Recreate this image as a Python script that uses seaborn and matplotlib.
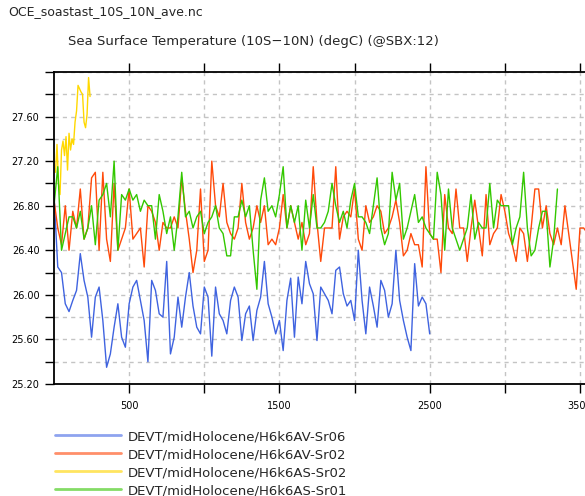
import numpy as np
import pandas as pd
import matplotlib
matplotlib.use("Agg")
import matplotlib.pyplot as plt
import seaborn as sns
from matplotlib.lines import Line2D

# ---------------- data ----------------
run_names = [
    "DEVT/midHolocene/H6k6AV-Sr06",
    "DEVT/midHolocene/H6k6AV-Sr02",
    "DEVT/midHolocene/H6k6AS-Sr02",
    "DEVT/midHolocene/H6k6AS-Sr01",
]

blue_start, blue_step = 0, 25
blue_sst = [
    26.9, 26.25, 26.2, 25.92, 25.85, 25.95, 26.04, 26.37, 26.13, 25.98,
    25.62, 25.98, 26.07, 25.77, 25.35, 25.47, 25.71, 25.92, 25.62, 25.53,
    25.92, 26.07, 26.13, 25.95, 25.77, 25.4, 26.13, 26.04, 25.83, 25.8,
    26.3, 25.47, 25.62, 25.98, 25.71, 25.98, 26.2, 25.9, 25.71, 25.65,
    26.07, 25.98, 25.45, 26.07, 25.83, 25.77, 25.65, 25.95, 26.07, 25.98,
    25.59, 25.83, 25.9, 25.59, 25.86, 25.98, 26.3, 25.92, 25.8, 25.65,
    25.77, 25.5, 25.95, 26.15, 25.62, 26.16, 25.92, 26.3, 26.1, 26.01,
    25.59, 26.07, 26.01, 25.95, 25.83, 26.22, 26.25, 26.01, 25.9, 25.95,
    25.77, 26.4, 25.95, 25.65, 26.07, 25.9, 25.71, 26.13, 26.04, 25.8,
    25.92, 26.4, 25.95, 25.77, 25.62, 25.5, 26.28, 25.9, 25.98, 25.92,
    25.65,
]

orange_start, orange_step = 0, 25
orange_sst = [
    26.85, 26.6, 26.45, 26.8, 26.4, 26.75, 26.6, 26.95, 26.5, 26.6,
    27.05, 27.1, 26.4, 27.1, 26.5, 26.3, 27.0, 26.4, 26.5, 26.6,
    26.95, 26.5, 26.55, 26.6, 26.25, 26.8, 26.75, 26.65, 26.4, 26.65,
    26.6, 26.6, 26.7, 26.6, 27.05, 26.75, 26.5, 26.2, 26.4, 26.95,
    26.3, 26.4, 27.2, 26.8, 26.7, 27.0, 26.65, 26.55, 26.5, 26.6,
    27.0, 26.65, 26.5, 26.6, 26.8, 26.65, 26.8, 26.45, 26.5, 26.45,
    26.6, 26.9, 26.6, 26.8, 26.65, 26.5, 26.65, 26.45, 26.55, 27.15,
    26.65, 26.3, 26.6, 26.6, 26.6, 27.15, 26.5, 26.7, 26.75, 26.7,
    26.95, 26.5, 26.4, 26.8, 26.65, 26.7, 26.8, 26.75, 26.55, 26.6,
    26.7, 26.85, 26.65, 26.35, 26.4, 26.55, 26.45, 26.45, 26.25, 27.15,
    26.55, 26.5, 26.5, 26.2, 26.9, 26.6, 26.55, 26.95, 26.6, 26.6,
    26.3, 26.6, 26.85, 26.6, 26.35, 26.9, 26.45, 26.55, 26.6, 26.9,
    26.75, 26.55, 26.45, 26.3, 26.6, 26.55, 26.3, 26.6, 26.95, 26.95,
    26.6, 26.8, 26.55, 26.45, 26.6, 26.45, 26.8, 26.55, 26.3, 26.05,
    26.6, 26.6, 26.55, 26.5,
]

yellow_start, yellow_step = 10, 10
yellow_sst = [
    27.1, 27.35, 27.0, 26.9, 27.3, 27.38, 27.25, 27.42, 27.12, 27.45,
    27.3, 27.4, 27.35, 27.55, 27.65, 27.88, 27.85, 27.82, 27.8, 27.55,
    27.5, 27.62, 27.95, 27.78,
]

green_start, green_step = 0, 25
green_sst = [
    26.8, 27.15, 26.4, 26.55, 26.7, 26.7, 26.6, 26.75, 26.5, 26.6,
    26.8, 26.45, 26.85, 26.9, 27.0, 26.7, 27.2, 26.4, 26.9, 26.85,
    26.95, 26.85, 26.9, 26.75, 26.85, 26.8, 26.8, 26.5, 26.9, 26.75,
    26.55, 26.7, 26.4, 26.7, 27.1, 26.7, 26.75, 26.6, 26.7, 26.75,
    26.55, 26.65, 26.7, 26.8, 26.6, 26.55, 26.35, 26.35, 26.7, 26.7,
    26.85, 26.7, 26.8, 26.4, 26.05, 26.85, 27.05, 26.75, 26.8, 26.7,
    26.9, 27.15, 26.6, 26.8, 26.65, 26.8, 26.4, 26.85, 26.6, 26.9,
    26.6, 26.6, 26.65, 26.75, 27.0, 26.8, 26.65, 26.75, 26.6, 26.85,
    27.0, 26.7, 26.7, 26.65, 26.55, 26.8, 27.05, 26.6, 26.45, 26.55,
    27.1, 26.85, 27.0, 26.5, 26.6, 26.75, 26.9, 26.65, 26.7, 26.6,
    26.55, 26.5, 27.1, 26.9, 26.4, 26.95, 26.6, 26.5, 26.4, 26.5,
    26.6, 26.9, 26.5, 26.65, 26.6, 26.6, 27.0, 26.6, 26.85, 26.8,
    26.8, 26.8, 26.45, 26.6, 26.7, 27.1, 26.6, 26.35, 26.4, 26.6,
    26.75, 26.75, 26.25, 26.5, 26.95,
]

x_tick_values = [500, 1000, 1500, 2000, 2500, 3000, 3500]
x_tick_labels = ["500", "", "1500", "", "2500", "", "3500"]
y_tick_values = [25.2, 25.4, 25.6, 25.8, 26.0, 26.2, 26.4, 26.6, 26.8, 27.0,
                 27.2, 27.4, 27.6, 27.8, 28.0]
y_tick_labels = ["25.20", "", "25.60", "", "26.00", "", "26.40", "", "26.80", "",
                 "27.20", "", "27.60", "", ""]

file_title = "OCE_soastast_10S_10N_ave.nc"
plot_title = "Sea Surface Temperature (10S\u221210N) (degC) (@SBX:12)"

# ---------------- build tidy table ----------------
series = [
    (run_names[0], blue_start, blue_step, blue_sst),
    (run_names[1], orange_start, orange_step, orange_sst),
    (run_names[2], yellow_start, yellow_step, yellow_sst),
    (run_names[3], green_start, green_step, green_sst),
]
frames = []
for name, start, step, vals in series:
    yrs = start + step * np.arange(len(vals))
    frames.append(pd.DataFrame({"year": yrs, "sst": vals, "run": name}))
df = pd.concat(frames, ignore_index=True)

line_colors = ["#3f63e0", "#ff4a0a", "#ffd800", "#33c800"]
legend_colors = ["#8ea3ef", "#ff8f6a", "#ffe560", "#84dc66"]
palette = dict(zip(run_names, line_colors))

# ---------------- figure ----------------
sns.set_style("ticks")
plt.rcParams["font.family"] = ["DejaVu Sans"]

fig = plt.figure(figsize=(5.85, 4.96), dpi=100)
ax = fig.add_axes([54 / 585, 1 - 384 / 496, 541 / 585, 312 / 496])

sns.lineplot(data=df, x="year", y="sst", hue="run", hue_order=run_names,
             palette=palette, estimator=None, sort=False, legend=False,
             linewidth=1.0, ax=ax)

ax.set_xlim(0, 3600)
ax.set_ylim(25.2, 28.0)
ax.set_xticks(x_tick_values)
ax.set_xticklabels(x_tick_labels)
ax.set_yticks(y_tick_values)
ax.set_yticklabels(y_tick_labels)
ax.set_xlabel("")
ax.set_ylabel("")

ax.grid(True, color="#c4c4c4", linestyle=(0, (3, 3)), linewidth=1.0)
ax.set_axisbelow(True)
ax.tick_params(axis="both", direction="out", length=6.5, width=1.0,
               labelsize=7, colors="black", pad=4)
ax.tick_params(axis="x", top=True, pad=6)
ax.tick_params(axis="y", right=False)
for side in ["left", "bottom", "top"]:
    ax.spines[side].set_visible(True)
    ax.spines[side].set_linewidth(1.3)
    ax.spines[side].set_color("black")
ax.spines["right"].set_visible(False)

fig.text(8 / 585, 1 - 12 / 496, file_title, fontsize=9, va="center", ha="left")
fig.text(68 / 585, 1 - 42 / 496, plot_title, fontsize=9.5, va="center", ha="left")

handles = [Line2D([0], [0], color=c, linewidth=2.0) for c in legend_colors]
fig.legend(handles, run_names, loc="upper left",
           bbox_to_anchor=(55 / 585, 1 - 430 / 496), bbox_transform=fig.transFigure,
           frameon=False, fontsize=9.5, handlelength=5.0, handletextpad=0.5,
           labelspacing=0.38, borderpad=0.0, borderaxespad=0.0)

fig.savefig("out.png", dpi=100)
